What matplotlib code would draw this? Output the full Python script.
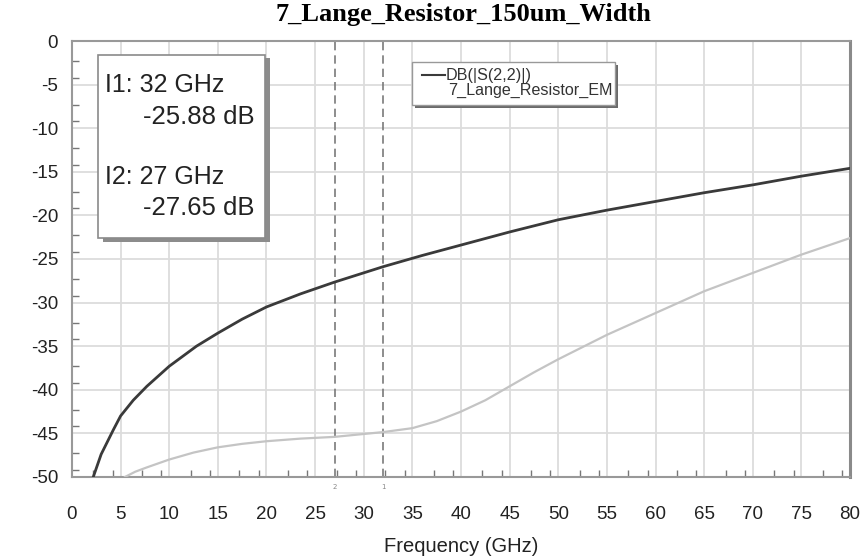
import matplotlib.pyplot as plt
import numpy as np
from matplotlib.patches import Rectangle
from matplotlib.ticker import MultipleLocator, FixedLocator

plt.rcParams['axes.unicode_minus'] = False

# values
s22_freq = [2.19, 3.0, 4.25, 5.0, 6.3, 7.7, 10.0, 12.8, 15.0, 17.5, 20.0, 23.5,
            27.0, 32.0, 36.0, 40.0, 45.0, 50.0, 55.0, 60.0, 65.0, 70.0, 75.0, 80.0]
s22_db = [-50.0, -47.4, -44.6, -43.0, -41.2, -39.6, -37.3, -35.0, -33.5, -31.9,
          -30.5, -29.0, -27.65, -25.88, -24.6, -23.4, -21.9, -20.5, -19.4, -18.4,
          -17.4, -16.5, -15.5, -14.6]

em_freq = [5.45, 6.5, 7.7, 10.0, 12.5, 15.0, 17.5, 20.0, 23.5, 27.0, 32.0, 35.0,
           37.5, 40.0, 42.5, 45.0, 47.5, 50.0, 55.0, 60.0, 65.0, 70.0, 75.0, 80.0]
em_db = [-50.0, -49.4, -48.9, -48.0, -47.2, -46.6, -46.2, -45.9, -45.6, -45.4,
         -44.85, -44.4, -43.6, -42.5, -41.2, -39.6, -38.0, -36.5, -33.7, -31.2,
         -28.7, -26.6, -24.5, -22.6]

marker_freq = [32, 27]
marker_db = [-25.88, -27.65]
marker_names = ["I1", "I2"]

fig = plt.figure(figsize=(8.65, 5.58), dpi=100)
ax = fig.add_axes([0.0832, 0.1452, 0.8995, 0.7813])

ax.plot(em_freq, em_db, color='#c4c4c4', lw=1.6, zorder=3)
ax.plot(s22_freq, s22_db, color='#3a3a3a', lw=2.0, zorder=4)

for f in marker_freq:
    ax.axvline(f, color='#7a7a7a', lw=1.2, ls=(0, (5, 3)), zorder=2)

ax.set_xlim(0, 80)
ax.set_ylim(-50, 0)
ax.xaxis.set_major_locator(MultipleLocator(5))
ax.yaxis.set_major_locator(MultipleLocator(5))
ax.xaxis.set_minor_locator(FixedLocator(np.concatenate([np.arange(2.2, 80, 5), np.arange(4.2, 80, 5)])))
ax.yaxis.set_minor_locator(FixedLocator(np.concatenate([np.arange(-49.2, 0, 5), np.arange(-47.3, 0, 5)])))
ax.grid(True, which='major', color='#dcdcdc', lw=1.3, zorder=0)
ax.tick_params(which='both', direction='in', color='#777777', top=False, right=False)
ax.tick_params(which='major', length=0, labelsize=13.5)
ax.tick_params(axis='x', which='major', pad=21)
ax.tick_params(axis='y', which='major', pad=10)
ax.tick_params(which='minor', length=5, width=1)
for lbl in ax.get_xticklabels() + ax.get_yticklabels():
    lbl.set_family('Liberation Sans')
    lbl.set_color('#222222')
for sp in ax.spines.values():
    sp.set_color('#999999')
    sp.set_linewidth(1.5)
ax.spines['right'].set_color('#8a8a8a')
ax.spines['right'].set_linewidth(2.2)

ax.set_xlabel("Frequency (GHz)", fontsize=14.5, family='Liberation Sans', labelpad=10,
              color='#222222')
fig.text(0.536, 0.974, "7_Lange_Resistor_150um_Width", fontsize=19,
         family='Liberation Serif', weight='bold', ha='center', va='center')

# marker readout box with shadow
ax.add_patch(Rectangle((0.0398, 0.5395), 0.2143, 0.4205, transform=ax.transAxes,
                       facecolor='#8c8c8c', edgecolor='none', zorder=6))
ax.add_patch(Rectangle((0.0338, 0.5475), 0.2143, 0.4205, transform=ax.transAxes,
                       facecolor='white', edgecolor='#8a8a8a', lw=1.2, zorder=7))
rows = [(0.899, 0.826), (0.689, 0.616)]
for (y1, y2), name, f, db in zip(rows, marker_names, marker_freq, marker_db):
    ax.text(0.0424, y1, f"{name}: {f} GHz", transform=ax.transAxes, fontsize=18,
            family='Liberation Sans', color='#222222', va='center', zorder=8)
    ax.text(0.2352, y2, f"{db:.2f} dB", transform=ax.transAxes, fontsize=18.5,
            family='Liberation Sans', color='#222222', va='center', ha='right', zorder=8)

# legend box with shadow
ax.add_patch(Rectangle((0.4410, 0.8461), 0.2608, 0.0995, transform=ax.transAxes,
                       facecolor='#6a6a6a', edgecolor='none', zorder=6))
ax.add_patch(Rectangle((0.4371, 0.8530), 0.2608, 0.0995, transform=ax.transAxes,
                       facecolor='white', edgecolor='#999999', lw=1.0, zorder=7))
ax.plot([0.4494, 0.4794], [0.922, 0.922], transform=ax.transAxes, color='#3a3a3a',
        lw=1.5, zorder=8)
ax.text(0.4800, 0.922, "DB(|S(2,2)|)", transform=ax.transAxes, fontsize=11.6,
        family='Liberation Sans', color='#333333', va='center', zorder=8)
ax.text(0.4837, 0.886, "7_Lange_Resistor_EM", transform=ax.transAxes, fontsize=11.6,
        family='Liberation Sans', color='#333333', va='center', zorder=8)

# tiny marker tags under the axis
for f, name in zip(marker_freq, marker_names):
    ax.text(f, -50.8, name[-1], fontsize=5, color='#888888', ha='center', va='top',
            clip_on=False)

fig.savefig("out.png", dpi=100)
